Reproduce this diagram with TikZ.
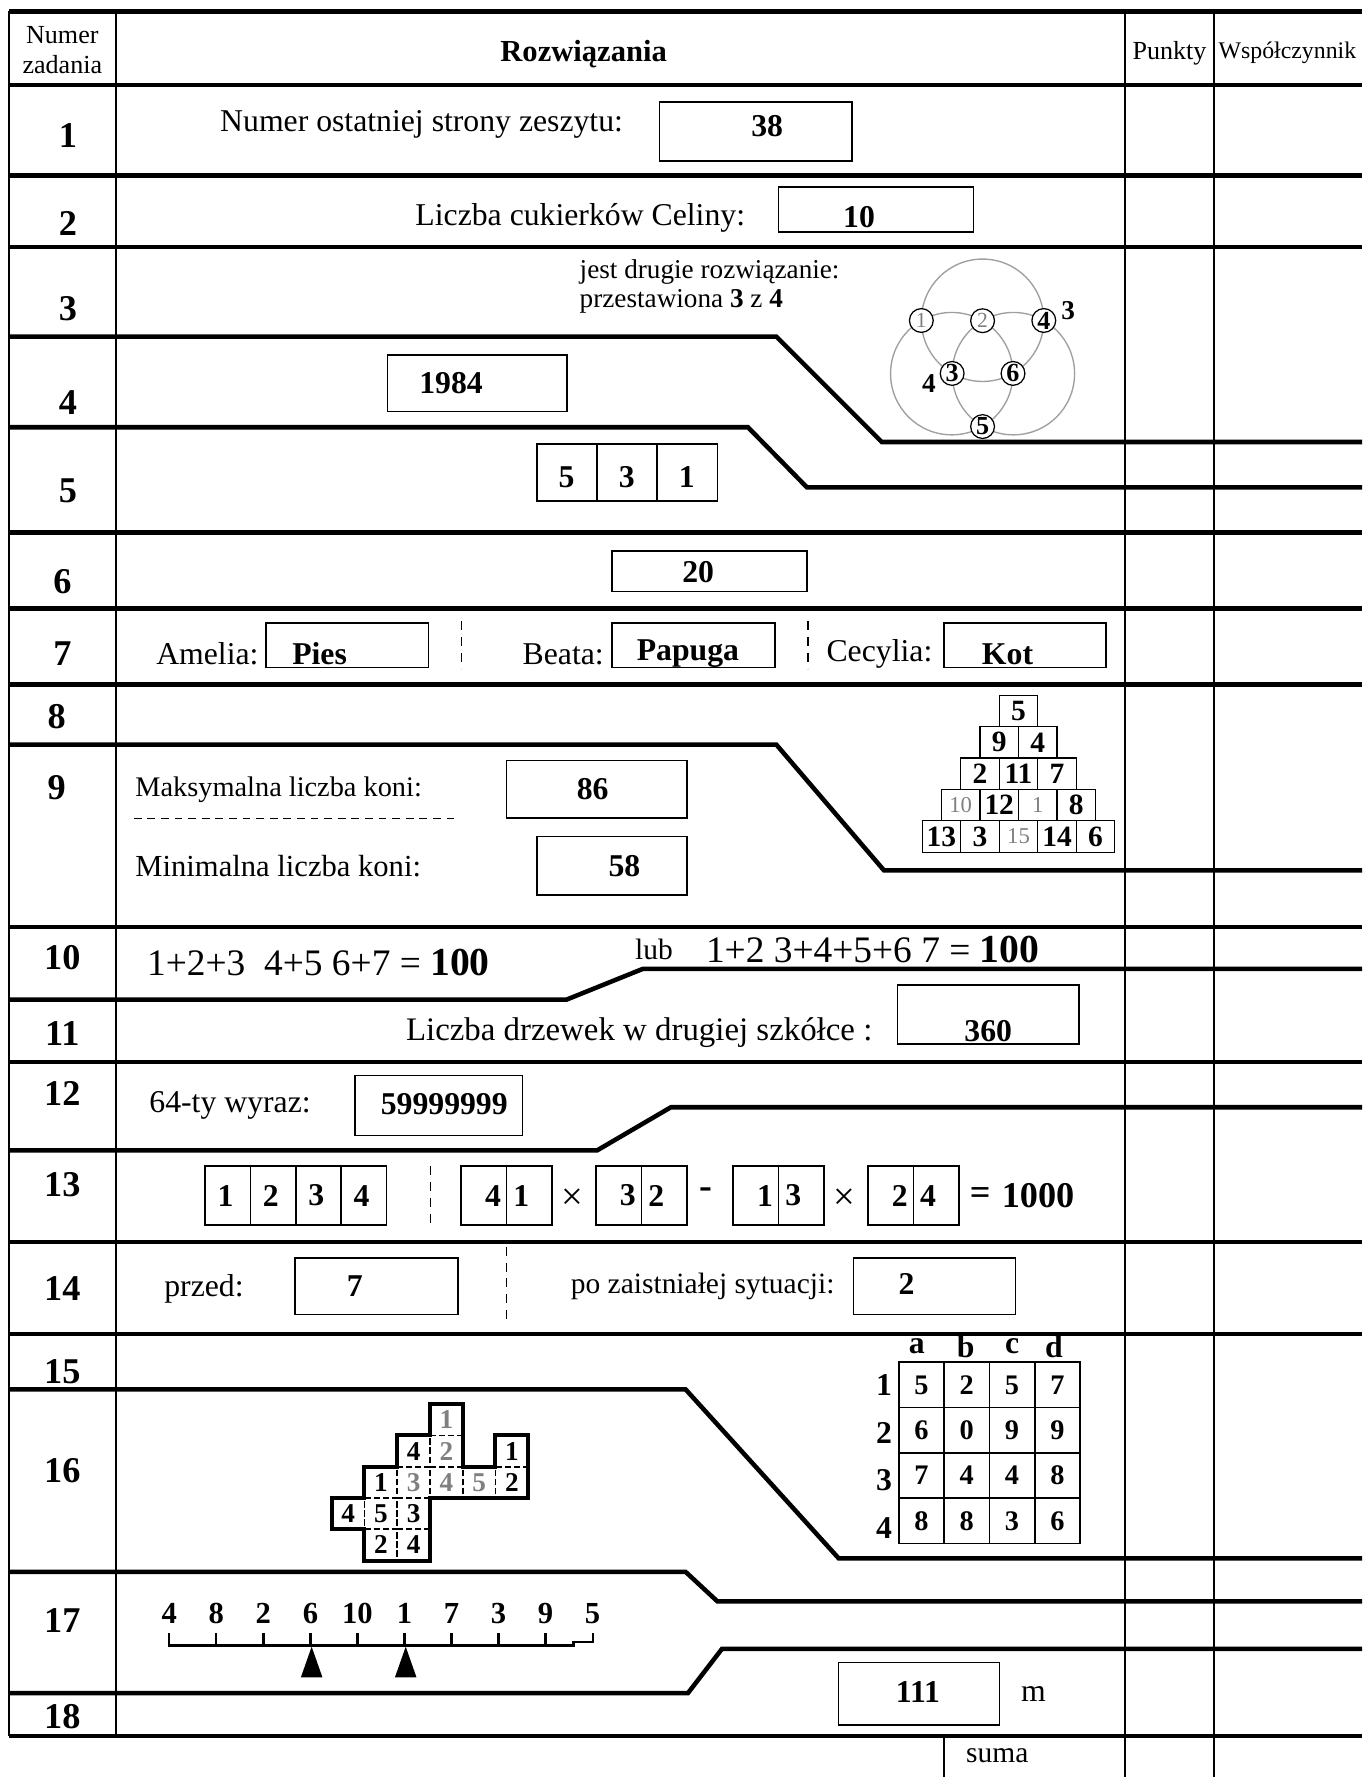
\documentclass[tikz,border=0pt]{standalone}
\usepackage{fontspec}
\setmainfont{Liberation Serif}
\usetikzlibrary{positioning}
\newcommand{\fsz}[1]{\fontsize{#1}{#1}\selectfont}
\tikzset{
  rowline/.style={line width=4pt},
  colline/.style={line width=1.6pt},
  ansbox/.style={line width=1.5pt},
  sepline/.style={line width=1.3pt, dash pattern=on 8pt off 6pt},
  nr/.style={font=\fsz{32}\bfseries},
  txt/.style={font=\fsz{28}},
  ans/.style={font=\fsz{28}\bfseries},
  ring/.style={draw=gray!75, line width=1.2pt},
  pt/.style={circle, draw, fill=white, line width=1.1pt, minimum size=21pt, inner sep=0pt, font=\fsz{23}\bfseries},
  ptl/.style={pt, text=gray, font=\fsz{19}},
  pyr/.style={draw, line width=1pt, minimum width=34pt, minimum height=27.7pt, inner sep=0pt, font=\fsz{26}\bfseries},
  pyrl/.style={pyr, text=gray, font=\fsz{20}},
  tile/.style={draw, line width=1.6pt, dash pattern=on 5pt off 3pt, minimum width=28.9pt, minimum height=27.6pt, inner sep=0pt, font=\fsz{24}\bfseries},
}
\begin{document}
\begin{tikzpicture}[x=1pt,y=-1pt]
\useasboundingbox (0,0) rectangle (1202,1568);
% frame
\draw[colline] (8,10) -- (8,1532);
\draw[colline] (102,10) -- (102,1532);
\draw[colline] (993,10) -- (993,1568);
\draw[colline] (1071,10) -- (1071,1568);
\draw[colline] (833,1532) -- (833,1568);
\foreach \y in {10,75,155,218,470,537,604,818,937,1096,1177,1532}
  \draw[rowline] (8,\y) -- (1202,\y);
\draw[rowline] (8,297) -- (685,297) -- (778,390) -- (1202,390);
\draw[rowline] (8,377) -- (660,377) -- (712,430) -- (1202,430);
\draw[rowline] (8,657) -- (685,657) -- (780,768) -- (1202,768);
\draw[rowline] (8,882) -- (500,882) -- (567,855) -- (1202,855);
\draw[rowline] (8,1015) -- (527,1015) -- (592,977) -- (1202,977);
\draw[rowline] (8,1226) -- (605,1226) -- (740,1375) -- (1202,1375);
\draw[rowline] (8,1387) -- (605,1387) -- (633,1413) -- (1202,1413);
\draw[rowline] (8,1494) -- (607,1494) -- (637,1455) -- (1202,1455);

% header
\node[font={\fontsize{23}{26}\selectfont}, align=center] (hnum) at (55,44) {Numer\\zadania};
\node[font=\fsz{27}\bfseries] (hsol) at (515,48) {Rozwiązania};
\node[font=\fsz{23}] (hpts) at (1032,47) {Punkty};
\node[font=\fsz{21}] (hcoef) at (1136,47) {Współczynnik};
\node[font=\fsz{26}] (suma) at (880,1549) {suma};

\foreach \n/\x/\y in {1/60/120, 2/60/197, 3/60/272, 4/60/355, 5/60/433, 6/55/513, 7/55/577,
  8/50/632, 9/50/695, 10/55/845, 11/55/912, 12/55/965, 13/55/1045, 14/55/1137, 15/55/1210,
  16/55/1298, 17/55/1430, 18/55/1515}
  \node[nr] (nr\n) at (\x,\y) {\n};

% 1, 2
\node[txt] (t1) at (372,110) {Numer ostatniej strony zeszytu:};
\draw[ansbox] (582,90) rectangle (752,142);
\node[ans] (a1) at (677,111) {38};
\node[txt] (t2) at (512,192) {Liczba cukierków Celiny:};
\draw[ansbox] (687,165) rectangle (859,205);
\node[ans] (a2) at (758,192) {10};

% 3
\node[font=\fsz{24}, anchor=west] (t3a) at (508,240) {jest drugie rozwiązanie:};
\node[font=\fsz{24}, anchor=west] (t3b) at (508,266) {przestawiona \textbf{3} z \textbf{4}};
\begin{scope}[shift={(867,314)}, y=1pt]
  \draw[ring] (90:31.4) circle[radius=54pt];
  \draw[ring] (210:31.4) circle[radius=54pt];
  \draw[ring] (330:31.4) circle[radius=54pt];
  \node[ptl] (p1) at (150:62.4) {1};
  \node[ptl] (p2) at (90:31) {2};
  \node[pt] (p4) at (30:62.4) {4};
  \node[pt] (p3) at (210:31) {3};
  \node[pt] (p6) at (330:31) {6};
  \node[pt] (p5) at (270:62.4) {5};
  \node[font=\fsz{24}\bfseries, right=1pt of p4, yshift=9pt] (x3) {3};
  \node[font=\fsz{24}\bfseries, left=0pt of p3, yshift=-9pt] (x4) {4};
\end{scope}

% 4, 5, 6
\draw[ansbox] (342,313) rectangle (500,363);
\node[ans] (a4) at (398,338) {1984};
\foreach \v [count=\i from 0] in {5,3,1} {
  \draw[ansbox] (474+53*\i,392) rectangle (527+53*\i,442);
  \node[ans] (a5\i) at (500+53*\i,421) {\v};
}
\draw[ansbox] (540,486) rectangle (712,522);
\node[ans] (a6) at (616,505) {20};

% 7
\node[txt] (t7a) at (183,577) {Amelia:};
\draw[ansbox] (235,550) rectangle (378,589);
\node[ans] (a7a) at (282,577) {Pies};
\draw[sepline] (407,548) -- (407,590);
\node[txt] (t7b) at (497,577) {Beata:};
\draw[ansbox] (540,550) rectangle (684,589);
\node[ans] (a7b) at (607,577) {Papuga};
\draw[sepline] (713,548) -- (713,590);
\node[txt] (t7c) at (776,577) {Cecylia:};
\draw[ansbox] (833,550) rectangle (976,589);
\node[ans] (a7c) at (889,577) {Kot};

% 8
\foreach \r/\c/\v/\s in {0/0/5/pyr, 1/0/9/pyr, 1/1/4/pyr, 2/0/2/pyr, 2/1/11/pyr, 2/2/7/pyr,
  3/0/10/pyrl, 3/1/12/pyr, 3/2/1/pyrl, 3/3/8/pyr,
  4/0/13/pyr, 4/1/3/pyr, 4/2/15/pyrl, 4/3/14/pyr, 4/4/6/pyr}
  \node[\s] (py\r\c) at ({898.7-(\r+1)*17+\c*34+17},{627.3+\r*27.7}) {\v};

% 9
\node[font=\fsz{25}, anchor=west] (t9a) at (116,697) {Maksymalna liczba koni:};
\draw[ansbox] (447,671) rectangle (606,722);
\node[ans] (a9a) at (523,696) {86};
\draw[line width=1.2pt, dash pattern=on 7pt off 5pt] (118,722) -- (405,722);
\node[font=\fsz{27}, anchor=west] (t9b) at (116,764) {Minimalna liczba koni:};
\draw[ansbox] (474,738) rectangle (606,790);
\node[ans] (a9b) at (551,764) {58};

% 10, 11, 12
\node[font=\fsz{33}] (a10a) at (281,849) {1+2+3\ \ 4+5 6+7 = {\fsz{35}\bfseries 100}};
\node[font=\fsz{26}] (lub) at (577,838) {lub};
\node[font=\fsz{33}] (a10b) at (770,838) {1+2 3+4+5+6 7 = {\fsz{35}\bfseries 100}};
\node[font=\fsz{29}] (t11) at (564,911) {Liczba drzewek w drugiej szkółce :};
\draw[ansbox] (792,869) rectangle (952,921);
\node[ans] (a11) at (872,910) {360};
\node[txt] (t12) at (203,975) {64-ty wyraz:};
\draw[ansbox] (313,949) rectangle (461,1002);
\node[ans] (a12) at (392,974) {59999999};

% 13
\foreach \v [count=\i from 0] in {1,2,3,4} {
  \draw[ansbox] (181+40*\i,1029) rectangle (221+40*\i,1081);
  \node[ans] (q\i) at (199+40*\i,1055) {\v};
}
\draw[sepline] (380,1029) -- (380,1081);
\foreach \L/\a/\b [count=\k] in {407/4/1, 526/3/2, 647/1/3, 766/2/4} {
  \draw[ansbox] (\L,1029) rectangle (\L+80,1081);
  \draw[ansbox] (\L+40,1029) -- (\L+40,1081);
  \node[ans] (pa\k) at (\L+28,1055) {\a};
  \node[ans] (pb\k) at (\L+53,1055) {\b};
}
\node[font=\fsz{34}] (m1) at (505,1058) {×};
\node[font=\fsz{34}\bfseries] (m2) at (623,1053) {-};
\node[font=\fsz{34}] (m3) at (745,1058) {×};
\node[font=\fsz{32}\bfseries] (eq) at (865,1055) {=};
\node[font=\fsz{32}\bfseries] (a13) at (916,1055) {1000};

% 14
\node[txt] (t14a) at (180,1137) {przed:};
\draw[ansbox] (260,1110) rectangle (404,1160);
\node[ans] (a14a) at (313,1135) {7};
\draw[sepline] (447,1100) -- (447,1165);
\node[font=\fsz{26}] (t14b) at (620,1135) {po zaistniałej sytuacji:};
\draw[ansbox] (753,1110) rectangle (896,1160);
\node[ans] (a14b) at (800,1133) {2};

% 15
\foreach \l/\x in {a/809, b/852, c/893, d/930}
  \node[font=\fsz{28}\bfseries] (col\l) at (\x,1188) {\l};
\foreach \r/\a/\b/\c/\d [count=\j from 0] in {1/5/2/5/7, 2/6/0/9/9, 3/7/4/4/8, 4/8/8/3/6} {
  \node[font=\fsz{28}\bfseries] (row\r) at (780,{1222+42*\j}) {\r};
  \foreach \v [count=\i from 0] in {\a,\b,\c,\d} {
    \draw[ansbox] (793+40*\i,{1202+40*\j}) rectangle (833+40*\i,{1242+40*\j});
    \node[font=\fsz{25}\bfseries] (g\j\i) at (813+40*\i,{1222+40*\j}) {\v};
  }
}

% 16
\begin{scope}[shift={(292.7,1239)}, x=28.9pt, y=-27.6pt]
  \foreach \c/\r/\v/\col in {3/0/1/gray, 2/1/4/black, 3/1/2/gray, 5/1/1/black,
    1/2/1/black, 2/2/3/gray, 3/2/4/gray, 4/2/5/gray, 5/2/2/black,
    0/3/4/black, 1/3/5/black, 2/3/3/black, 1/4/2/black, 2/4/4/black}
    \node[tile, text=\col] (k\c\r) at (\c+0.5,\r+0.5) {\v};
  \draw[line width=3.5pt, line join=miter] (3,0) -- (4,0) -- (4,2) -- (5,2) -- (5,1) -- (6,1) -- (6,3)
    -- (3,3) -- (3,5) -- (1,5) -- (1,4) -- (0,4) -- (0,3) -- (1,3) -- (1,2) -- (2,2) -- (2,1)
    -- (3,1) -- cycle;
\end{scope}

% 17
\foreach \v [count=\i from 0] in {4,8,2,6,10,1,7,3,9,5}
  \node[font=\fsz{27}\bfseries] (w\i) at (149.4+41.5*\i,1424) {\v};
\foreach \i in {0,...,8}
  \draw[line width=2pt] (149.4+41.5*\i,1441) -- (149.4+41.5*\i,1452);
\draw[line width=2pt] (148.4,1452) -- (506,1452) -- (506,1449) -- (523,1449) -- (523,1441);
\fill (275,1453) -- (265.5,1480) -- (284.5,1480) -- cycle;
\fill (358,1453) -- (348.5,1480) -- (367.5,1480) -- cycle;

% 18
\draw[ansbox] (740,1467) rectangle (882,1522);
\node[ans] (a18) at (810,1493) {111};
\node[txt] (unit) at (912,1495) {m};
\end{tikzpicture}
\end{document}
